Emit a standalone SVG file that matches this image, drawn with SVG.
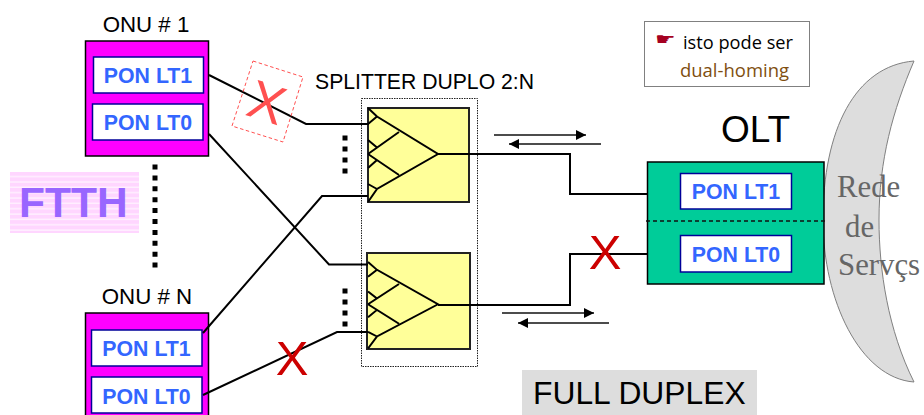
<svg xmlns="http://www.w3.org/2000/svg" width="924" height="415" viewBox="0 0 924 415">
<style>
text{font-family:"Liberation Sans",Arial,sans-serif}
.lbl{font-size:22.3px;fill:#000;text-anchor:middle}
.pon{font-size:21.3px;font-weight:bold;fill:#3366ff;text-anchor:middle}
.port{fill:#fff;stroke:#000099;stroke-width:1.5}
.onu{fill:#ff00ff;stroke:#000;stroke-width:1.5}
.wire{fill:none;stroke:#000;stroke-width:2}
.thin{fill:none;stroke:#111;stroke-width:1.3}
.sp{fill:#ffff99;stroke:#222;stroke-width:2}
.tri{fill:none;stroke:#000;stroke-width:2}
.dots{stroke:#000;stroke-width:5;fill:none}
.x{font-size:49px;fill:#cc0000;text-anchor:middle}
.rede{font-family:"Liberation Serif",serif;font-size:30.8px;fill:#666}
</style>
<defs>
<pattern id="stripes" width="10" height="5.35" patternUnits="userSpaceOnUse" y="172">
<rect width="10" height="5.35" fill="#ffd6ff"/>
<rect y="3.9" width="10" height="1.45" fill="#fff0ff"/>
</pattern>
<marker id="ah" markerWidth="10" markerHeight="10" refX="10" refY="5" orient="auto" markerUnits="userSpaceOnUse">
<path d="M0 0L10 5L0 10Z" fill="#000"/>
</marker>
<g id="tree">
<path class="tri" d="M0 0L9 8.500L70 46L9 81L0 94M0 46L31 24M0 46L31 67M9 8.500L0 16M0 32L9 39.600M9 52L0 60M0 76L9 81"/>
</g>
</defs>

<path id="crescent" d="M914 61C855 66 823 130 823 220C823 300 860 378 914 382C888 330 879 270 879 220C879 160 893 110 914 61Z" fill="#dddddd" stroke="#808080" stroke-width="1"/>

<g id="ftth">
<rect x="10" y="172" width="129" height="61" fill="url(#stripes)"/>
<text x="19" y="217" font-size="42.500" font-weight="bold" fill="#9966ff">FTTH</text>
</g>

<g id="onu1">
<text class="lbl" x="146" y="32">ONU # 1</text>
<rect class="onu" x="85.500" y="41" width="123" height="115"/>
<rect class="port" x="93.500" y="57" width="110" height="36"/>
<text class="pon" x="148" y="83">PON LT1</text>
<rect class="port" x="92.500" y="104" width="110.500" height="36"/>
<text class="pon" x="148" y="130">PON LT0</text>
</g>

<g id="onuN">
<text class="lbl" x="147" y="304">ONU # N</text>
<rect class="onu" x="85.500" y="313" width="123" height="104"/>
<rect class="port" x="91.500" y="330" width="110.500" height="36"/>
<text class="pon" x="146.500" y="356">PON LT1</text>
<rect class="port" x="91.500" y="377" width="110.500" height="36"/>
<text class="pon" x="146.500" y="404">PON LT0</text>
</g>

<path class="dots" d="M155 164.500V268" stroke-dasharray="5 5.900"/>
<path class="dots" d="M345 135.500V174" stroke-dasharray="5 6"/>
<path class="dots" d="M345 288.500V327" stroke-dasharray="5 6"/>

<g id="splitter">
<text x="315" y="89" font-size="21.200">SPLITTER DUPLO 2:N</text>
<rect x="361.500" y="98.500" width="116" height="268" fill="none" stroke="#222" stroke-width="1" stroke-dasharray="1.500 1"/>
<rect class="sp" x="368" y="108" width="101" height="94"/>
<use href="#tree" x="368" y="108"/>
<rect class="sp" x="367" y="253" width="103" height="96"/>
<use href="#tree" transform="translate(368 262) scale(1 .92)"/>
</g>

<g id="olt">
<text x="721" y="142" font-size="37">OLT</text>
<rect x="647.500" y="162" width="176.500" height="122" fill="#00cc99" stroke="#000" stroke-width="1.500"/>
<rect class="port" x="680.500" y="173.500" width="111" height="35.500"/>
<text class="pon" x="736" y="199">PON LT1</text>
<rect class="port" x="680.500" y="235.500" width="111" height="36.500"/>
<text class="pon" x="736" y="262">PON LT0</text>
<path d="M646 221H827" stroke="#111" stroke-width="1.500" stroke-dasharray="4 3" fill="none"/>
</g>

<g id="connectors">
<path class="wire" d="M209 75L306 124L369 124"/>
<path class="wire" d="M209 134L329 264.500L368 264.500"/>
<path class="wire" d="M203 333L322 196L368 196"/>
<path class="wire" d="M203 395L337 332L368 332"/>
<path class="wire" d="M438 154L570 154L570 194L648 194"/>
<path class="wire" d="M438 305L570 305L570 254L648 254"/>
<path class="thin" d="M494 135L586 135" marker-end="url(#ah)"/>
<path class="thin" d="M601 144L509 144" marker-end="url(#ah)"/>
<path class="thin" d="M502 313L594 313" marker-end="url(#ah)"/>
<path class="thin" d="M609 323L518 323" marker-end="url(#ah)"/>
</g>

<g id="rede">
<text class="rede" x="837" y="197">Rede</text>
<text class="rede" x="845" y="237">de</text>
<text class="rede" x="838" y="275">Servçs</text>
</g>

<g id="cuts">
<path d="M253 61L303 77L283 142L232 126Z" fill="none" stroke="#ff5050" stroke-width="1" stroke-dasharray="3.500 2.500"/>
<text x="267" y="121" font-size="54" fill="#ff5050" text-anchor="middle" transform="rotate(18 267 102)">X</text>
<text class="x" x="605" y="269">X</text>
<text class="x" x="292" y="375">X</text>
</g>

<g id="note">
<rect x="644.500" y="21.500" width="165" height="65" fill="#fff" stroke="#808080" stroke-width="1"/>
<text transform="translate(655 45) scale(1.150 .85)" font-size="20" fill="#a50021" style="font-family:'DejaVu Sans',sans-serif">☛</text>
<text x="683" y="49" font-size="19" fill="#000" textLength="110" lengthAdjust="spacingAndGlyphs" style="font-family:'Open Sans',sans-serif">isto pode ser</text>
<text x="680" y="77" font-size="19" fill="#7f4f10" textLength="109" lengthAdjust="spacingAndGlyphs" style="font-family:'Open Sans',sans-serif">dual-homing</text>
</g>

<g id="duplex">
<rect x="522" y="370" width="235" height="45" fill="#dddddd"/>
<text x="533" y="404" font-size="31.800">FULL DUPLEX</text>
</g>
</svg>
